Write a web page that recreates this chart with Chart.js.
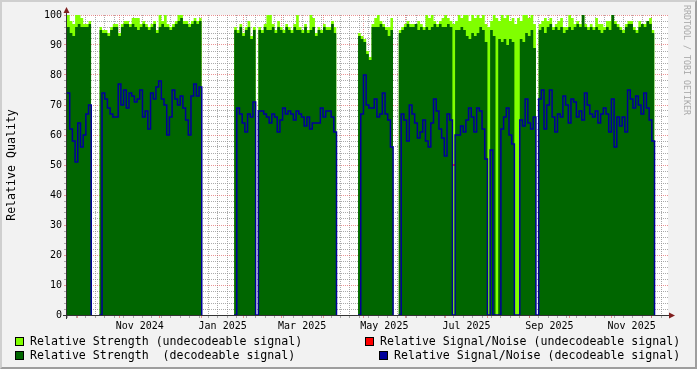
<!DOCTYPE html>
<html>
<head>
<meta charset="utf-8">
<title>Relative Quality</title>
<script src="https://cdn.jsdelivr.net/npm/chart.js@4/dist/chart.umd.min.js"></script>
<style>
  html, body { margin: 0; padding: 0; background: #f2f2f2; }
  #wrap { position: relative; width: 697px; height: 369px; background: #f2f2f2; overflow: hidden;
          font-family: 'DejaVu Sans Mono', monospace; color: #000; }
  #wrap canvas { position: absolute; left: 0; top: 0; }
  #frame { position: absolute; left: 0; top: 0; width: 697px; height: 369px; box-sizing: border-box;
           border-top: 2px solid #cfcfcf; border-left: 2px solid #cfcfcf;
           border-right: 2px solid #9e9e9e; border-bottom: 2px solid #9e9e9e; pointer-events: none; }
  .ytitle { position: absolute; left: 11px; top: 165px; font-size: 11.6px; white-space: pre;
            transform: translate(-50%, -50%) rotate(-90deg); }
  .wm { position: absolute; left: 692px; top: 5px; font-size: 8.3px; line-height: 10px; color: #a8a8a8;
        white-space: pre; transform-origin: 0 0; transform: rotate(90deg); }
  .lg { position: absolute; font-size: 11.6px; line-height: 14px; white-space: pre; }
  .box { position: absolute; width: 9px; height: 9px; box-sizing: border-box; border: 1px solid #000; }
</style>
</head>
<body>
<div id="wrap">
  <canvas id="chart" width="697" height="369"></canvas>
  <div class="ytitle">Relative Quality</div>
  <div class="wm">RRDTOOL / TOBI OETIKER</div>

  <div class="box" style="left:15px; top:337px; background:#80ff00"></div>
  <div class="lg" style="left:30px; top:334px">Relative Strength (undecodeable signal)</div>
  <div class="box" style="left:15px; top:351px; background:#006600"></div>
  <div class="lg" style="left:30px; top:348px">Relative Strength  (decodeable signal)</div>

  <div class="box" style="left:365px; top:337px; background:#ff0000"></div>
  <div class="lg" style="left:380px; top:334px">Relative Signal/Noise (undecodeable signal)</div>
  <div class="box" style="left:379px; top:351px; background:#000099"></div>
  <div class="lg" style="left:394px; top:348px">Relative Signal/Noise (decodeable signal)</div>

  <div id="frame"></div>
</div>
<script>
// one sample every 2 days, day 0 = Mon 23 Sep 2024
const startDate = Date.UTC(2024, 8, 23);
const stepDays = 2;
const axisDays = 446;

// relative strength incl. undecodeable signal (light green)
const strengthUndecodeable = [
  100, 98, 97, 100, 100, 99, 97, 97, 98, 98,
  null, null,
  96, 95, 95, 94, 96, 97, 97, 94, 97, 98, 98, 97, 99, 99, 99, 97, 98, 97, 96, 97,
  98, 95, 100, 98, 100, 97, 96, 97, 98, 100, 100, 98, 98, 97, 98, 99, 98, 99, 99,
  null, null, null, null, null, null, null, null, null, null, null,
  96, 95, 97, 94, 96, 98, 93, 96, 0, 96, 95, 97, 100, 100, 97, 95, 98, 96, 95, 97,
  96, 95, 97, 100, 96, 95, 97, 95, 100, 99, 94, 96, 95, 97, 96, 96, 98, 96, 96,
  null, null, null, null, null, null, null,
  94, 93, 92, 88, 86, 97, 99, 100, 98, 97, 96, 96, 99, 99,
  null,
  95, 96, 97, 98, 97, 97, 97, 98, 97, 96, 100, 99, 100, 98, 97, 98, 99, 100, 99, 98,
  97, 98, 100, 99, 100, 100, 98, 100, 99, 100, 99, 100, 97, 96, 98, 100, 99, 98, 100, 99,
  100, 98, 99, 97, 99, 98, 100, 100, 99, 100, 97, 0, 97, 98, 99, 98, 99, 96, 97, 98,
  99, 96, 96, 100, 99, 97, 98, 97, 100, 97, 96, 97, 96, 99, 97, 97, 96, 98, 98, 100,
  98, 97, 96, 95, 97, 98, 98, 96, 95, 98, 97, 97, 98, 99, 95, 95
];

// relative strength, decodeable signal (dark green)
const strengthDecodeable = [
  96, 94, 93, 96, 97, 96, 96, 96, 97, 97,
  null, null,
  95, 94, 94, 93, 95, 96, 96, 93, 96, 97, 97, 96, 97, 96, 95, 96, 97, 96, 95, 96,
  97, 94, 96, 97, 96, 96, 95, 96, 97, 98, 99, 97, 97, 96, 97, 98, 97, 98, 98,
  null, null, null, null, null, null, null, null, null, null, null,
  95, 94, 96, 93, 95, 96, 92, 95, 0, 95, 94, 96, 95, 95, 96, 94, 96, 95, 94, 96,
  95, 94, 96, 95, 95, 94, 96, 94, 95, 96, 93, 95, 94, 96, 95, 95, 97, 94, 94,
  null, null, null, null, null, null, null,
  93, 92, 91, 87, 85, 96, 96, 96, 97, 96, 95, 93, 95, 95,
  null,
  94, 95, 96, 97, 96, 96, 97, 95, 96, 95, 96, 95, 96, 97, 96, 97, 96, 96, 97, 96,
  0, 95, 95, 96, 95, 93, 92, 94, 93, 94, 96, 95, 91, 0, 95, 93, 0, 92, 91, 92,
  90, 92, 91, 0, 0, 92, 91, 94, 93, 95, 89, 0, 95, 96, 94, 96, 97, 95, 96, 95,
  96, 94, 95, 96, 95, 96, 97, 96, 100, 96, 95, 96, 95, 96, 95, 94, 95, 96, 95, 100,
  97, 96, 95, 94, 96, 97, 97, 95, 94, 96, 97, 96, 98, 97, 94, 94
];

// relative signal/noise, decodeable signal (blue line)
const snDecodeable = [
  74, 62, 58, 51, 64, 56, 60, 67, 70, 0,
  null, null,
  0, 74, 72, 69, 67, 66, 66, 77, 70, 75, 69, 74, 73, 71, 72, 75, 66, 68, 62, 74,
  72, 76, 78, 72, 70, 60, 66, 75, 72, 70, 73, 69, 65, 60, 73, 77, 73, 76, 0,
  null, null, null, null, null, null, null, null, null, null, null,
  0, 69, 67, 64, 61, 67, 66, 71, 0, 68, 68, 67, 66, 64, 67, 66, 61, 65, 69, 67,
  68, 67, 65, 68, 67, 66, 63, 66, 62, 64, 64, 64, 69, 66, 68, 68, 66, 61, 0,
  null, null, null, null, null, null, null,
  0, 67, 80, 70, 69, 69, 72, 66, 67, 74, 67, 65, 56, 0,
  null,
  0, 67, 65, 58, 70, 67, 64, 59, 61, 65, 58, 56, 64, 72, 68, 62, 59, 53, 67, 65,
  0, 60, 60, 63, 61, 65, 69, 66, 61, 69, 68, 62, 52, 0, 55, 0, 0, 0, 62, 66,
  69, 60, 57, 0, 0, 65, 63, 72, 64, 62, 66, 0, 72, 75, 62, 70, 75, 66, 61, 67,
  66, 73, 70, 64, 72, 71, 66, 68, 65, 74, 70, 67, 66, 68, 64, 67, 69, 67, 61, 72,
  56, 66, 63, 66, 61, 75, 72, 69, 73, 70, 67, 74, 69, 65, 58, 0
];

// relative signal/noise, undecodeable signal (red, barely visible) as [day, value]
const snUndecodeable = [[286, 50], [288, 50]];

const xTickLabels = ['Nov 2024', 'Jan 2025', 'Mar 2025', 'May 2025', 'Jul 2025', 'Sep 2025', 'Nov 2025'];
const monthAbbr = ['Jan', 'Feb', 'Mar', 'Apr', 'May', 'Jun', 'Jul', 'Aug', 'Sep', 'Oct', 'Nov', 'Dec'];

const days = strengthDecodeable.map((_, i) => i * stepDays);

const MINOR = 'rgba(143,143,143,0.75)';
const MAJOR = 'rgba(222,79,79,0.6)';
const FONT = 'DejaVu Sans Mono';

function dayOf(y, m) {
    return (Date.UTC(y, m, 1) - startDate) / 86400000;
}

// x ticks: weekly minor grid, monthly major grid, labels in the middle of the month
const xTicks = [];
for (let d = 0; d <= axisDays; d += 7) xTicks.push({ value: d, kind: 'week' });
for (let y = 2024, m = 9; dayOf(y, m) <= axisDays; m++) {
    if (m > 11) { m = 0; y++; }
    xTicks.push({ value: dayOf(y, m), kind: 'month' });
}
xTickLabels.forEach(label => {
    const [mon, yr] = label.split(' ');
    const m = monthAbbr.indexOf(mon);
    const mid = (dayOf(+yr, m) + dayOf(+yr, m + 1)) / 2;
    xTicks.push({ value: mid, kind: 'label', text: label });
});
xTicks.sort((a, b) => a.value - b.value);

const yTicks = [];
for (let v = 0; v <= 100; v += 2) yTicks.push({ value: v });

function xGridColor(c) {
    if (!c.tick) return 'transparent';
    if (c.tick.kind === 'month') return MAJOR;
    if (c.tick.kind === 'week') return MINOR;
    return 'transparent';
}
function yGridColor(c) {
    if (!c.tick) return 'transparent';
    return c.tick.value % 10 === 0 ? MAJOR : MINOR;
}

// white canvas behind the plot
const canvasBg = {
    id: 'canvasBg',
    beforeDraw(chart) {
        const { ctx, chartArea: a } = chart;
        ctx.save();
        ctx.fillStyle = '#ffffff';
        ctx.fillRect(a.left, a.top, a.right - a.left, a.bottom - a.top);
        ctx.restore();
    }
};

// axis lines with the little arrows
const rrdAxes = {
    id: 'rrdAxes',
    afterDraw(chart) {
        const { ctx, chartArea: a } = chart;
        const x0 = a.left - 0.5, y0 = a.bottom + 0.5;
        ctx.save();
        ctx.strokeStyle = '#333333';
        ctx.lineWidth = 1;
        ctx.beginPath();
        ctx.moveTo(a.left - 4, y0);
        ctx.lineTo(a.right + 3, y0);
        ctx.moveTo(x0, a.bottom + 4);
        ctx.lineTo(x0, a.top - 3);
        ctx.stroke();
        ctx.fillStyle = '#801f1f';
        ctx.beginPath();
        ctx.moveTo(a.right + 1, y0 - 3);
        ctx.lineTo(a.right + 7, y0);
        ctx.lineTo(a.right + 1, y0 + 3);
        ctx.closePath();
        ctx.fill();
        ctx.beginPath();
        ctx.moveTo(x0 - 3, a.top - 2);
        ctx.lineTo(x0, a.top - 8);
        ctx.lineTo(x0 + 3, a.top - 2);
        ctx.closePath();
        ctx.fill();
        ctx.restore();
    }
};

new Chart(document.getElementById('chart'), {
    type: 'line',
    data: {
        labels: days,
        datasets: [
            {
                label: 'Relative Signal/Noise (decodeable signal)',
                data: snDecodeable,
                borderColor: '#000099',
                borderWidth: 1.5,
                stepped: true,
                fill: false,
                pointRadius: 0,
                order: 0
            },
            {
                label: 'Relative Signal/Noise (undecodeable signal)',
                data: snUndecodeable.map(([x, y]) => ({ x, y })),
                borderColor: '#ff0000',
                borderWidth: 1.5,
                stepped: true,
                fill: false,
                pointRadius: 0,
                order: 1
            },
            {
                label: 'Relative Strength  (decodeable signal)',
                data: strengthDecodeable,
                backgroundColor: '#006600',
                borderColor: 'transparent',
                borderWidth: 0,
                stepped: true,
                fill: 'origin',
                pointRadius: 0,
                order: 2
            },
            {
                label: 'Relative Strength (undecodeable signal)',
                data: strengthUndecodeable,
                backgroundColor: '#80ff00',
                borderColor: 'transparent',
                borderWidth: 0,
                stepped: true,
                fill: 'origin',
                pointRadius: 0,
                order: 3
            }
        ]
    },
    options: {
        responsive: false,
        animation: false,
        events: [],
        spanGaps: false,
        layout: { autoPadding: false, padding: { left: 0, top: 15, right: 29, bottom: 0 } },
        plugins: {
            legend: { display: false },
            tooltip: { enabled: false }
        },
        scales: {
            x: {
                type: 'linear',
                min: 0,
                max: axisDays,
                z: 1,
                afterBuildTicks: axis => { axis.ticks = xTicks; },
                afterFit: s => { s.height = 54; },
                grid: { color: xGridColor, tickColor: xGridColor, tickLength: 3, lineWidth: 1 },
                border: { display: false, dash: [1, 1] },
                ticks: {
                    autoSkip: false,
                    maxRotation: 0,
                    padding: 2,
                    color: '#000',
                    font: { family: FONT, size: 10 },
                    callback: (v, i, t) => t[i].text || ''
                }
            },
            y: {
                min: 0,
                max: 100,
                z: 1,
                afterBuildTicks: axis => { axis.ticks = yTicks; },
                afterFit: s => { s.width = 67; },
                grid: { color: yGridColor, tickColor: yGridColor, tickLength: 3, lineWidth: 1 },
                border: { display: false, dash: [1, 1] },
                ticks: {
                    autoSkip: false,
                    padding: 2,
                    color: '#000',
                    font: { family: FONT, size: 10 },
                    callback: v => (v % 10 === 0 ? String(v) : '')
                }
            }
        }
    },
    plugins: [canvasBg, rrdAxes]
});
</script>
</body>
</html>
